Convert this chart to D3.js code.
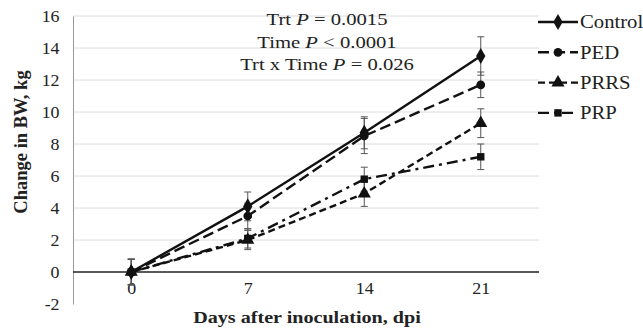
<!DOCTYPE html>
<html>
<head>
<meta charset="utf-8">
<script src="https://cdn.jsdelivr.net/npm/d3@7"></script>
<style>
  body { margin: 0; background: #fff; }
  text { font-family: "Liberation Serif", "Times New Roman", serif; fill: #222; }
</style>
</head>
<body>
<div id="chart"></div>
<script>
// data
var days = ["0", "7", "14", "21"];
var seriesNames = ["Control", "PED", "PRRS", "PRP"];
var control = [0, 4.1, 8.7, 13.5];
var ped = [0, 3.5, 8.5, 11.7];
var prrs = [0, 2.0, 4.9, 9.3];
var prp = [0, 2.1, 5.8, 7.2];
var controlErr = [0.8, 0.9, 1.0, 1.2];
var pedErr = [0.8, 0.8, 1.1, 0.8];
var prrsErr = [0.8, 0.6, 0.8, 0.9];
var prpErr = [0.8, 0.6, 0.75, 0.8];
var yTicks = [-2, 0, 2, 4, 6, 8, 10, 12, 14, 16];
var notes = ["Trt |P| = 0.0015", "Time |P| < 0.0001", "Trt x Time |P| = 0.026"];

var W = 643, H = 328;
var margin = { top: 16, right: 104, bottom: 24, left: 73 },
    width = W - margin.left - margin.right,
    height = H - margin.top - margin.bottom;
var stretch = "scale(1.15,1)"; // the source figure's text is a bit wide

var svg = d3.select("#chart").append("svg")
    .attr("width", W).attr("height", H);
var g = svg.append("g")
    .attr("transform", "translate(" + margin.left + "," + margin.top + ")");

var x = d3.scalePoint().domain(days).range([0, width]).padding(0.5);
var y = d3.scaleLinear().domain([-2, 16]).range([height, 0]);

// gridlines
g.selectAll(".grid").data(yTicks.filter(function (d) { return d !== 0 && d !== -2; }))
    .enter().append("line")
    .attr("x1", 0).attr("x2", width)
    .attr("y1", function (d) { return y(d); }).attr("y2", function (d) { return y(d); })
    .attr("stroke", "#dcdcdc").attr("stroke-width", 1);

// y axis
var yAxis = g.append("g").call(d3.axisLeft(y).tickValues(yTicks).tickSize(0).tickPadding(12)
    .tickFormat(function (d) { return String(d); }));
yAxis.select(".domain").attr("stroke", "#999");
yAxis.selectAll("text").style("font-size", "16px").attr("fill", "#222")
    .attr("transform", "scale(1.12,1)");

// zero line + x labels
g.append("line").attr("x1", 0).attr("x2", width)
    .attr("y1", y(0)).attr("y2", y(0))
    .attr("stroke", "#222").attr("stroke-width", 1.3);
var xAxis = g.append("g").attr("transform", "translate(0," + y(0) + ")")
    .call(d3.axisBottom(x).tickSize(0).tickPadding(11));
xAxis.select(".domain").remove();
xAxis.selectAll("text").style("font-size", "16px").attr("fill", "#222")
    .attr("transform", "scale(1.12,1)");

// titles
svg.append("text")
    .attr("transform", "translate(21,142) rotate(-90)")
    .attr("text-anchor", "middle").attr("dy", "0.35em")
    .style("font-size", "18.5px").style("font-weight", "bold")
    .text("Change in BW, kg");
svg.append("text")
    .attr("transform", "translate(307,323) " + stretch)
    .attr("text-anchor", "middle")
    .style("font-size", "17.5px").style("font-weight", "bold")
    .text("Days after inoculation, dpi");

// annotation
notes.forEach(function (n, i) {
    var parts = n.split("|");
    var t = svg.append("text")
        .attr("transform", "translate(327," + (25 + i * 22.5) + ") scale(1.18,1)")
        .attr("text-anchor", "middle")
        .style("font-size", "17.5px");
    t.append("tspan").text(parts[0]);
    t.append("tspan").style("font-style", "italic").text(parts[1]);
    t.append("tspan").text(parts[2]);
});

var series = [
    { name: seriesNames[0], vals: control, err: controlErr, dash: null, sym: d3.symbolDiamond, size: 75 },
    { name: seriesNames[1], vals: ped, err: pedErr, dash: "11,5", sym: d3.symbolCircle, size: 60 },
    { name: seriesNames[2], vals: prrs, err: prrsErr, dash: "7,4", sym: d3.symbolTriangle, size: 75 },
    { name: seriesNames[3], vals: prp, err: prpErr, dash: "11,5,3,5", sym: d3.symbolSquare, size: 55 }
];

var line = d3.line()
    .x(function (d, i) { return x(days[i]); })
    .y(function (d) { return y(d); });

// error bars
series.forEach(function (s) {
    var eb = g.append("g");
    s.vals.forEach(function (v, i) {
        var cx = x(days[i]), e = s.err[i];
        eb.append("line").attr("x1", cx).attr("x2", cx)
            .attr("y1", y(v - e)).attr("y2", y(v + e));
        [v - e, v + e].forEach(function (yy) {
            eb.append("line").attr("x1", cx - 3.5).attr("x2", cx + 3.5)
                .attr("y1", y(yy)).attr("y2", y(yy));
        });
    });
    eb.selectAll("line").attr("stroke", "#555").attr("stroke-width", 1);
});

// lines and markers
series.forEach(function (s) {
    g.append("path").datum(s.vals)
        .attr("d", line)
        .attr("fill", "none").attr("stroke", "#111").attr("stroke-width", 2.4)
        .attr("stroke-dasharray", s.dash);
    g.selectAll(null).data(s.vals).enter().append("path")
        .attr("transform", function (d, i) { return "translate(" + x(days[i]) + "," + y(d) + ")"; })
        .attr("d", d3.symbol().type(s.sym).size(s.size))
        .attr("fill", "#111");
});

// legend
var legend = svg.append("g").attr("transform", "translate(538,22)");
series.forEach(function (s, i) {
    var row = legend.append("g").attr("transform", "translate(0," + i * 30.3 + ")");
    row.append("line").attr("x1", 0).attr("x2", 40).attr("y1", 0).attr("y2", 0)
        .attr("stroke", "#111").attr("stroke-width", 2.4)
        .attr("stroke-dasharray", s.dash);
    row.append("path").attr("transform", "translate(20,0)")
        .attr("d", d3.symbol().type(s.sym).size(s.size)).attr("fill", "#111");
    row.append("text").attr("transform", "translate(42,0) scale(1.15,1)").attr("dy", "0.35em")
        .style("font-size", "18px").text(s.name);
});
</script>
</body>
</html>
